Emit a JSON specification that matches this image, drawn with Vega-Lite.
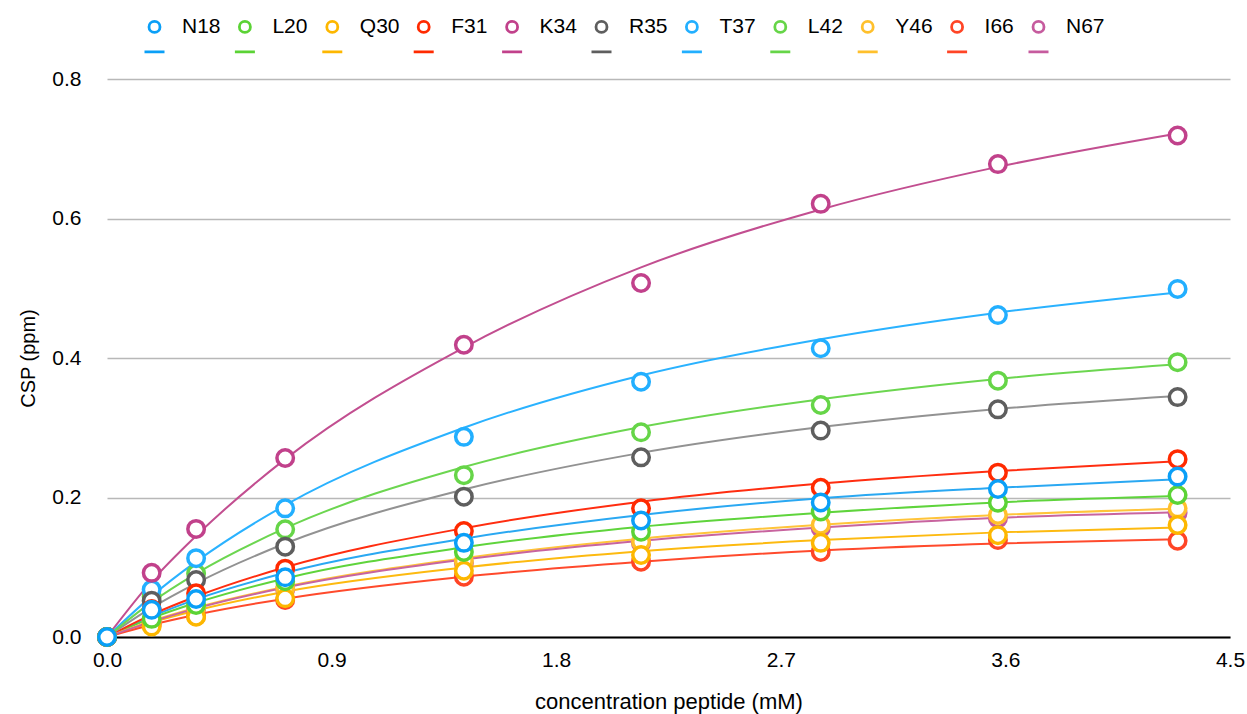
{
  "$schema": "https://vega.github.io/schema/vega-lite/v6.json",
  "width": 1123,
  "height": 558,
  "autosize": "none",
  "padding": {"left": 107, "top": 79, "right": 17, "bottom": 77},
  "background": "white",
  "config": {
    "font": "Liberation Sans",
    "view": {"stroke": null},
    "axis": {"labelColor": "black", "titleColor": "black", "titleFontWeight": "normal", "labelFontSize": 21, "titleFontSize": 20, "ticks": false, "labelFlush": false},
    "legend": {
      "orient": "none", "legendX": 36, "legendY": -64, "direction": "horizontal", "columns": 11,
      "symbolType": "M -0.55 0 A 0.55 0.55 0 1 1 0.55 0 A 0.55 0.55 0 1 1 -0.55 0 Z M -1 2.5 L 1 2.5",
      "symbolSize": 400, "symbolStrokeWidth": 2.8, "symbolFillColor": "white",
      "labelFontSize": 21, "labelOffset": 16, "columnPadding": 7.4, "padding": 0, "labelColor": "black"
    }
  },
  "datasets": {
    "pts": [
      {"s":"N67","x":0,"y":0},{"s":"N67","x":0.179,"y":0.022},{"s":"N67","x":0.357,"y":0.040},{"s":"N67","x":0.714,"y":0.068},{"s":"N67","x":1.43,"y":0.106},{"s":"N67","x":2.14,"y":0.134},{"s":"N67","x":2.86,"y":0.156},{"s":"N67","x":3.57,"y":0.170},{"s":"N67","x":4.29,"y":0.178},
      {"s":"I66","x":0,"y":0},{"s":"I66","x":0.179,"y":0.018},{"s":"I66","x":0.357,"y":0.030},{"s":"I66","x":0.714,"y":0.053},{"s":"I66","x":1.43,"y":0.0865},{"s":"I66","x":2.14,"y":0.108},{"s":"I66","x":2.86,"y":0.122},{"s":"I66","x":3.57,"y":0.139},{"s":"I66","x":4.29,"y":0.138},
      {"s":"Y46","x":0,"y":0},{"s":"Y46","x":0.179,"y":0.022},{"s":"Y46","x":0.357,"y":0.042},{"s":"Y46","x":0.714,"y":0.070},{"s":"Y46","x":1.43,"y":0.109},{"s":"Y46","x":2.14,"y":0.1367},{"s":"Y46","x":2.86,"y":0.161},{"s":"Y46","x":3.57,"y":0.175},{"s":"Y46","x":4.29,"y":0.1845},
      {"s":"L42","x":0,"y":0},{"s":"L42","x":0.179,"y":0.058},{"s":"L42","x":0.357,"y":0.091},{"s":"L42","x":0.714,"y":0.1544},{"s":"L42","x":1.43,"y":0.232},{"s":"L42","x":2.14,"y":0.2935},{"s":"L42","x":2.86,"y":0.3326},{"s":"L42","x":3.57,"y":0.3675},{"s":"L42","x":4.29,"y":0.394},
      {"s":"T37","x":0,"y":0},{"s":"T37","x":0.179,"y":0.068},{"s":"T37","x":0.357,"y":0.113},{"s":"T37","x":0.714,"y":0.1845},{"s":"T37","x":1.43,"y":0.287},{"s":"T37","x":2.14,"y":0.366},{"s":"T37","x":2.86,"y":0.414},{"s":"T37","x":3.57,"y":0.4616},{"s":"T37","x":4.29,"y":0.499},
      {"s":"R35","x":0,"y":0},{"s":"R35","x":0.179,"y":0.052},{"s":"R35","x":0.357,"y":0.0817},{"s":"R35","x":0.714,"y":0.1295},{"s":"R35","x":1.43,"y":0.2012},{"s":"R35","x":2.14,"y":0.2576},{"s":"R35","x":2.86,"y":0.296},{"s":"R35","x":3.57,"y":0.3264},{"s":"R35","x":4.29,"y":0.344},
      {"s":"K34","x":0,"y":0},{"s":"K34","x":0.179,"y":0.092},{"s":"K34","x":0.357,"y":0.155},{"s":"K34","x":0.714,"y":0.2566},{"s":"K34","x":1.43,"y":0.419},{"s":"K34","x":2.14,"y":0.5075},{"s":"K34","x":2.86,"y":0.621},{"s":"K34","x":3.57,"y":0.678},{"s":"K34","x":4.29,"y":0.719},
      {"s":"F31","x":0,"y":0},{"s":"F31","x":0.179,"y":0.040},{"s":"F31","x":0.357,"y":0.0626},{"s":"F31","x":0.714,"y":0.098},{"s":"F31","x":1.43,"y":0.152},{"s":"F31","x":2.14,"y":0.1845},{"s":"F31","x":2.86,"y":0.214},{"s":"F31","x":3.57,"y":0.2356},{"s":"F31","x":4.29,"y":0.255},
      {"s":"Q30","x":0,"y":0},{"s":"Q30","x":0.179,"y":0.015},{"s":"Q30","x":0.357,"y":0.029},{"s":"Q30","x":0.714,"y":0.0555},{"s":"Q30","x":1.43,"y":0.095},{"s":"Q30","x":2.14,"y":0.1176},{"s":"Q30","x":2.86,"y":0.135},{"s":"Q30","x":3.57,"y":0.146},{"s":"Q30","x":4.29,"y":0.1606},
      {"s":"L20","x":0,"y":0},{"s":"L20","x":0.179,"y":0.026},{"s":"L20","x":0.357,"y":0.046},{"s":"L20","x":0.714,"y":0.080},{"s":"L20","x":1.43,"y":0.122},{"s":"L20","x":2.14,"y":0.151},{"s":"L20","x":2.86,"y":0.180},{"s":"L20","x":3.57,"y":0.1926},{"s":"L20","x":4.29,"y":0.2036},
      {"s":"N18","x":0,"y":0},{"s":"N18","x":0.179,"y":0.039},{"s":"N18","x":0.357,"y":0.0545},{"s":"N18","x":0.714,"y":0.0856},{"s":"N18","x":1.43,"y":0.135},{"s":"N18","x":2.14,"y":0.167},{"s":"N18","x":2.86,"y":0.193},{"s":"N18","x":3.57,"y":0.2122},{"s":"N18","x":4.29,"y":0.230}
    ],
    "fit": [
      {"s":"N18","x":0,"y":0},{"s":"N18","x":0.179,"y":0.0295},{"s":"N18","x":0.357,"y":0.054},{"s":"N18","x":0.714,"y":0.092},{"s":"N18","x":1.43,"y":0.141},{"s":"N18","x":2.14,"y":0.175},{"s":"N18","x":2.86,"y":0.199},{"s":"N18","x":3.57,"y":0.214},{"s":"N18","x":4.29,"y":0.226},
      {"s":"L20","x":0,"y":0},{"s":"L20","x":0.179,"y":0.027},{"s":"L20","x":0.357,"y":0.049},{"s":"L20","x":0.714,"y":0.084},{"s":"L20","x":1.43,"y":0.1286},{"s":"L20","x":2.14,"y":0.158},{"s":"L20","x":2.86,"y":0.178},{"s":"L20","x":3.57,"y":0.193},{"s":"L20","x":4.29,"y":0.202},
      {"s":"Q30","x":0,"y":0},{"s":"Q30","x":0.179,"y":0.021},{"s":"Q30","x":0.357,"y":0.038},{"s":"Q30","x":0.714,"y":0.065},{"s":"Q30","x":1.43,"y":0.0996},{"s":"Q30","x":2.14,"y":0.123},{"s":"Q30","x":2.86,"y":0.139},{"s":"Q30","x":3.57,"y":0.150},{"s":"Q30","x":4.29,"y":0.157},
      {"s":"F31","x":0,"y":0},{"s":"F31","x":0.179,"y":0.032},{"s":"F31","x":0.357,"y":0.058},{"s":"F31","x":0.714,"y":0.100},{"s":"F31","x":1.43,"y":0.156},{"s":"F31","x":2.14,"y":0.194},{"s":"F31","x":2.86,"y":0.220},{"s":"F31","x":3.57,"y":0.238},{"s":"F31","x":4.29,"y":0.252},
      {"s":"K34","x":0,"y":0},{"s":"K34","x":0.179,"y":0.080},{"s":"K34","x":0.357,"y":0.145},{"s":"K34","x":0.714,"y":0.255},{"s":"K34","x":1.43,"y":0.415},{"s":"K34","x":2.14,"y":0.530},{"s":"K34","x":2.86,"y":0.613},{"s":"K34","x":3.57,"y":0.674},{"s":"K34","x":4.29,"y":0.722},
      {"s":"R35","x":0,"y":0},{"s":"R35","x":0.179,"y":0.042},{"s":"R35","x":0.357,"y":0.077},{"s":"R35","x":0.714,"y":0.134},{"s":"R35","x":1.43,"y":0.2114},{"s":"R35","x":2.14,"y":0.264},{"s":"R35","x":2.86,"y":0.301},{"s":"R35","x":3.57,"y":0.327},{"s":"R35","x":4.29,"y":0.3455},
      {"s":"T37","x":0,"y":0},{"s":"T37","x":0.179,"y":0.0586},{"s":"T37","x":0.357,"y":0.108},{"s":"T37","x":0.714,"y":0.189},{"s":"T37","x":1.43,"y":0.300},{"s":"T37","x":2.14,"y":0.375},{"s":"T37","x":2.86,"y":0.427},{"s":"T37","x":3.57,"y":0.465},{"s":"T37","x":4.29,"y":0.494},
      {"s":"L42","x":0,"y":0},{"s":"L42","x":0.179,"y":0.050},{"s":"L42","x":0.357,"y":0.091},{"s":"L42","x":0.714,"y":0.156},{"s":"L42","x":1.43,"y":0.2437},{"s":"L42","x":2.14,"y":0.301},{"s":"L42","x":2.86,"y":0.341},{"s":"L42","x":3.57,"y":0.370},{"s":"L42","x":4.29,"y":0.391},
      {"s":"Y46","x":0,"y":0},{"s":"Y46","x":0.179,"y":0.023},{"s":"Y46","x":0.357,"y":0.042},{"s":"Y46","x":0.714,"y":0.072},{"s":"Y46","x":1.43,"y":0.113},{"s":"Y46","x":2.14,"y":0.141},{"s":"Y46","x":2.86,"y":0.161},{"s":"Y46","x":3.57,"y":0.175},{"s":"Y46","x":4.29,"y":0.184},
      {"s":"I66","x":0,"y":0},{"s":"I66","x":0.179,"y":0.0175},{"s":"I66","x":0.357,"y":0.032},{"s":"I66","x":0.714,"y":0.055},{"s":"I66","x":1.43,"y":0.0865},{"s":"I66","x":2.14,"y":0.108},{"s":"I66","x":2.86,"y":0.124},{"s":"I66","x":3.57,"y":0.134},{"s":"I66","x":4.29,"y":0.140},
      {"s":"N67","x":0,"y":0},{"s":"N67","x":0.179,"y":0.022},{"s":"N67","x":0.357,"y":0.041},{"s":"N67","x":0.714,"y":0.071},{"s":"N67","x":1.43,"y":0.111},{"s":"N67","x":2.14,"y":0.138},{"s":"N67","x":2.86,"y":0.157},{"s":"N67","x":3.57,"y":0.171},{"s":"N67","x":4.29,"y":0.179}
    ]
  },
  "layer": [
    {
      "data": {"name": "fit"},
      "mark": {"type": "line", "interpolate": "monotone", "strokeWidth": 2},
      "encoding": {
        "x": {"field": "x", "type": "quantitative", "scale": {"domain": [0, 4.5], "nice": false, "zero": false},
              "axis": {"values": [0, 0.9, 1.8, 2.7, 3.6, 4.5], "format": ".1f", "title": "concentration peptide (mM)", "titleFontSize": 22, "grid": false, "domainColor": "black", "domainWidth": 2, "labelPadding": 12, "titlePadding": 21}},
        "y": {"field": "y", "type": "quantitative", "scale": {"domain": [0, 0.8], "nice": false},
              "axis": {"values": [0, 0.2, 0.4, 0.6, 0.8], "format": ".1f", "title": "CSP (ppm)", "grid": true, "gridColor": "#b8b8b8", "gridWidth": 1.5, "domain": false, "labelPadding": 26, "titlePadding": 13}},
        "color": {"field": "s", "type": "nominal", "legend": null,
                  "scale": {"domain": ["N18","L20","Q30","F31","K34","R35","T37","L42","Y46","I66","N67"],
                            "range": ["#2AA8F2","#5FD43C","#FDBA10","#FF2D10","#C24E90","#929292","#2AB2FF","#6CD650","#FFC43A","#FF4A2C","#C8649F"]}}
      }
    },
    {
      "data": {"name": "pts"},
      "mark": {"type": "point", "shape": "circle", "filled": false, "fill": "white", "fillOpacity": 1, "opacity": 1, "strokeWidth": 3.5, "size": 272},
      "encoding": {
        "x": {"field": "x", "type": "quantitative"},
        "y": {"field": "y", "type": "quantitative"},
        "color": {"field": "s", "type": "nominal", "title": null,
                  "scale": {"domain": ["N18","L20","Q30","F31","K34","R35","T37","L42","Y46","I66","N67"],
                            "range": ["#0A9FF7","#5BD335","#FDB700","#FF2A00","#C1418B","#5E5E5E","#22AFFF","#66D548","#FFC02C","#FF4526","#C65B9E"]},
                  "legend": {"title": null}}
      }
    }
  ],
  "resolve": {"scale": {"color": "independent"}}
}
